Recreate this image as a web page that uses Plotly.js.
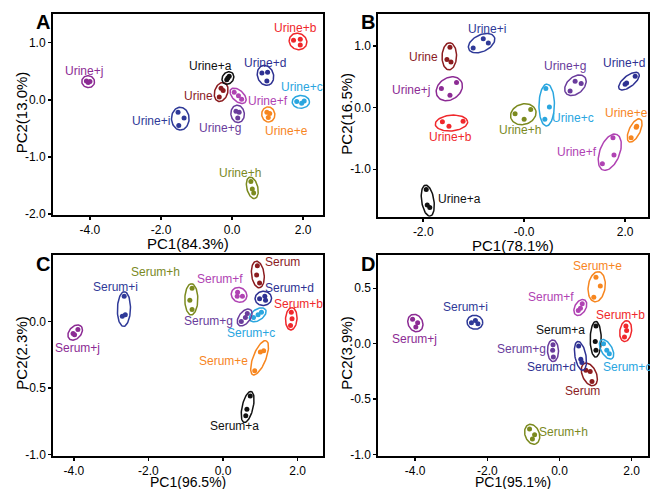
<!DOCTYPE html>
<html>
<head>
<meta charset="utf-8">
<script src="https://cdn.plot.ly/plotly-3.0.1.min.js"></script>
<style>html,body{margin:0;padding:0;background:#fff;}#chart{width:650px;height:489px;}</style>
</head>
<body>
<div id="chart"></div>
<script>
// ---------- DATA ----------
const suffixes = ["", "a", "b", "c", "d", "e", "f", "g", "h", "i", "j"];
const urineGroups = ["Urine","Urine+a","Urine+b","Urine+c","Urine+d","Urine+e","Urine+f","Urine+g","Urine+h","Urine+i","Urine+j"];
const serumGroups = ["Serum","Serum+a","Serum+b","Serum+c","Serum+d","Serum+e","Serum+f","Serum+g","Serum+h","Serum+i","Serum+j"];

// Panel A (Urine, PC1 84.3%, PC2 13.0%)
const A_pc1 = [[-0.31,-0.25,-0.36],[-0.15,-0.08,-0.12],[1.73,1.92,1.92],[1.82,1.96,2.03],[0.84,1.0,0.98],[0.98,1.06,1.02],[0.06,0.18,0.27],[0.11,0.2,0.16],[0.53,0.57,0.61],[-1.52,-1.35,-1.5],[-4.1,-4.0,-4.05]];
const A_pc2 = [[0.2,0.16,0.05],[0.35,0.41,0.38],[1.04,1.06,0.96],[-0.03,-0.06,-0.02],[0.47,0.48,0.33],[-0.22,-0.24,-0.31],[0.13,0.07,0.01],[-0.2,-0.22,-0.32],[-1.43,-1.56,-1.63],[-0.22,-0.32,-0.45],[0.33,0.32,0.30]];
const A_labelPC1 = [-0.94,-0.6,1.79,1.96,0.93,1.54,1.0,-0.34,0.21,-2.28,-4.16];
const A_labelPC2 = [0.06,0.59,1.25,0.22,0.65,-0.55,-0.02,-0.5,-1.28,-0.38,0.51];

// Panel B (Urine, PC1 78.1%, PC2 16.5%)
const B_pc1 = [[-1.47,-1.53,-1.45],[-1.94,-1.87,-1.92],[-1.62,-1.49,-1.21],[0.43,0.5,0.41],[2.0,2.2,2.03],[2.23,2.12,2.22],[1.76,1.78,1.55],[0.91,1.01,1.13],[-0.18,0.0,0.13],[-1.01,-0.81,-0.71],[-1.64,-1.34,-1.47]];
const B_pc2 = [[0.98,0.78,0.74],[-1.33,-1.62,-1.58],[-0.23,-0.3,-0.22],[0.31,0.01,-0.19],[0.38,0.51,0.4],[-0.3,-0.49,-0.32],[-0.49,-0.77,-0.91],[0.27,0.43,0.39],[-0.1,-0.19,-0.03],[0.97,1.12,1.05],[0.31,0.41,0.2]];
const B_labelPC1 = [-2.0,-1.29,-1.45,0.97,1.98,2.02,1.04,0.81,-0.09,-0.73,-2.25];
const B_labelPC2 = [0.82,-1.49,-0.48,-0.16,0.72,-0.09,-0.72,0.68,-0.36,1.28,0.29];

// Panel C (Serum, PC1 96.5%, PC2 2.3%)
const C_pc1 = [[0.92,0.9,0.98],[0.73,0.64,0.61],[1.83,1.85,1.81],[0.82,0.94,1.03],[0.98,1.12,1.14],[1.0,1.09,0.85],[0.39,0.38,0.52],[0.49,0.6,0.65],[-0.83,-0.89,-0.83],[-2.65,-2.7,-2.62],[-3.89,-4.02,-3.98]];
const C_pc2 = [[0.42,0.35,0.29],[-0.56,-0.66,-0.71],[0.07,0.02,-0.03],[0.03,0.05,0.07],[0.17,0.19,0.16],[-0.23,-0.22,-0.37],[0.22,0.19,0.19],[0.0,0.03,0.06],[0.25,0.16,0.09],[0.19,0.04,0.05],[-0.06,-0.09,-0.1]];
const C_labelPC1 = [1.59,0.31,2.01,0.74,1.79,0.02,-0.09,-0.4,-1.81,-2.88,-3.89];
const C_labelPC2 = [0.45,-0.79,0.13,-0.09,0.25,-0.3,0.32,0.0,0.37,0.26,-0.2];

// Panel D (Serum, PC1 95.1%, PC2 3.9%)
const D_pc1 = [[0.73,0.85,0.9],[1.01,0.99,1.01],[1.84,1.86,1.8],[1.22,1.31,1.38],[0.53,0.59,0.62],[1.01,1.13,0.95],[0.52,0.63,0.58],[-0.18,-0.17,-0.19],[-0.83,-0.69,-0.75],[-2.44,-2.33,-2.26],[-4.07,-3.93,-3.98]];
const D_pc2 = [[-0.24,-0.25,-0.34],[0.16,0.02,-0.06],[0.16,0.12,0.06],[0.0,-0.06,-0.09],[-0.02,-0.14,-0.17],[0.6,0.52,0.42],[0.3,0.36,0.32],[-0.01,-0.12,-0.06],[-0.77,-0.82,-0.86],[0.19,0.21,0.18],[0.22,0.19,0.15]];
const D_labelPC1 = [0.64,0.02,1.68,1.87,-0.23,1.05,-0.23,-1.04,0.11,-2.61,-4.02];
const D_labelPC2 = [-0.43,0.12,0.26,-0.21,-0.21,0.7,0.42,-0.05,-0.8,0.33,0.045];

// Axis titles and tick labels
const xTitles = ["PC1(84.3%)","PC1(78.1%)","PC1(96.5%)","PC1(95.1%)"];
const yTitles = ["PC2(13.0%)","PC2(16.5%)","PC2(2.3%)","PC2(3.9%)"];
const panelLetters = ["A","B","C","D"];
const A_xtickVals = [-4,-2,0,2], A_xtickText = ["-4.0","-2.0","0.0","2.0"];
const A_ytickVals = [1,0,-1,-2], A_ytickText = ["1.0","0.0","-1.0","-2.0"];
const B_xtickVals = [-2,0,2], B_xtickText = ["-2.0","-0.0","2.0"];
const B_ytickVals = [1,0,-1], B_ytickText = ["1.0","0.0","-1.0"];
const C_xtickVals = [-4,-2,0,2], C_xtickText = ["-4.0","-2.0","0.0","2.0"];
const C_ytickVals = [0,-0.5,-1], C_ytickText = ["0.0","-0.5","-1.0"];
const D_xtickVals = [-4,-2,0,2], D_xtickText = ["-4.0","-2.0","0.0","2.0"];
const D_ytickVals = [0.5,0,-0.5,-1], D_ytickText = ["0.5","0.0","-0.5","-1.0"];

// ---------- STYLE ----------
const FONT = "Arial, 'Liberation Sans', sans-serif";
const groupColors = {"":"#8b1c1f","a":"#111111","b":"#f0282c","c":"#2aa6df","d":"#2e3192","e":"#f7861f","f":"#b043b3","g":"#6a3c9c","h":"#7b8a1f","i":"#2f3a98","j":"#8c2b94"};
const W = 650, H = 489;
const panels = [
  {pc1:A_pc1, pc2:A_pc2, lx:A_labelPC1, ly:A_labelPC2, names:urineGroups, xr:[-5.04,2.56], yr:[-2.01,1.5], xd:[53,323], yd:[14,214.7], xt:[A_xtickVals,A_xtickText], yt:[A_ytickVals,A_ytickText], tgap:29, tfs:15},
  {pc1:B_pc1, pc2:B_pc2, lx:B_labelPC1, ly:B_labelPC2, names:urineGroups, xr:[-2.89,2.46], yr:[-1.77,1.52], xd:[378.3,648.3], yd:[14,216.7], xt:[B_xtickVals,B_xtickText], yt:[B_ytickVals,B_ytickText], tgap:28.5, tfs:15},
  {pc1:C_pc1, pc2:C_pc2, lx:C_labelPC1, ly:C_labelPC2, names:serumGroups, xr:[-4.55,2.68], yr:[-1.01,0.5], xd:[53.3,323], yd:[255,455.7], xt:[C_xtickVals,C_xtickText], yt:[C_ytickVals,C_ytickText], tgap:26.5, tfs:14},
  {pc1:D_pc1, pc2:D_pc2, lx:D_labelPC1, ly:D_labelPC2, names:serumGroups, xr:[-5.02,2.46], yr:[-1.01,0.8], xd:[378.3,648.3], yd:[255,455.7], xt:[D_xtickVals,D_xtickText], yt:[D_ytickVals,D_ytickText], tgap:26.5, tfs:14}
];

function enclosingEllipse(xs, ys, sx, sy) {
  const X = xs.map(v => v*sx), Y = ys.map(v => v*sy);
  const n = X.length;
  const mx = X.reduce((a,b)=>a+b,0)/n, my = Y.reduce((a,b)=>a+b,0)/n;
  let cxx=0, cyy=0, cxy=0;
  for (let i=0;i<n;i++){ const dx=X[i]-mx, dy=Y[i]-my; cxx+=dx*dx; cyy+=dy*dy; cxy+=dx*dy; }
  const th = 0.5*Math.atan2(2*cxy, cxx-cyy);
  const c = Math.cos(th), s = Math.sin(th);
  let mu=0, mv=0;
  for (let i=0;i<n;i++){ const dx=X[i]-mx, dy=Y[i]-my; mu=Math.max(mu, Math.abs(dx*c+dy*s)); mv=Math.max(mv, Math.abs(-dx*s+dy*c)); }
  let b = Math.max(mv + 5, 5.5);
  let a = Math.max(mu + 4.5, b);
  const ex=[], ey=[];
  for (let k=0;k<=72;k++){
    const t = 2*Math.PI*k/72;
    const u = a*Math.cos(t), v = b*Math.sin(t);
    ex.push((mx + u*c - v*s)/sx);
    ey.push((my + u*s + v*c)/sy);
  }
  return [ex, ey];
}

const traces = [];
const annotations = [];
const layout = {
  width: W, height: H,
  margin: {l:0, r:0, t:0, b:0},
  paper_bgcolor: "#ffffff", plot_bgcolor: "#ffffff",
  showlegend: false,
  font: {family: FONT, color: "#000"},
  annotations: annotations
};

panels.forEach((p, pi) => {
  const idx = pi === 0 ? "" : String(pi+1);
  const xa = "x"+idx, ya = "y"+idx;
  const sx = (p.xd[1]-p.xd[0])/(p.xr[1]-p.xr[0]);
  const sy = (p.yd[1]-p.yd[0])/(p.yr[1]-p.yr[0]);
  p.names.forEach((nm, gi) => {
    const col = groupColors[suffixes[gi]];
    const [ex, ey] = enclosingEllipse(p.pc1[gi], p.pc2[gi], sx, sy);
    traces.push({type:"scatter", mode:"lines", x:ex, y:ey, xaxis:xa, yaxis:ya,
      line:{color:col, width:1.5}, hoverinfo:"skip"});
    traces.push({type:"scatter", mode:"markers", x:p.pc1[gi], y:p.pc2[gi], xaxis:xa, yaxis:ya,
      marker:{color:col, size:5}, name:nm});
    annotations.push({x:p.lx[gi], y:p.ly[gi], xref:xa, yref:ya, text:nm, showarrow:false,
      xanchor:"center", yanchor:"middle",
      font:{size:12, color:col, family:FONT}});
  });
  const common = {showline:true, mirror:true, linecolor:"#000", linewidth:2, ticks:"outside",
    ticklen:3, tickwidth:1.5, tickcolor:"#000", showgrid:false, zeroline:false,
    tickfont:{size:12, color:"#000", family:FONT}};
  layout["xaxis"+idx] = Object.assign({}, common, {
    domain:[p.xd[0]/W, p.xd[1]/W], range:p.xr, anchor:ya,
    tickmode:"array", tickvals:p.xt[0], ticktext:p.xt[1]
  });
  layout["yaxis"+idx] = Object.assign({}, common, {
    domain:[1-p.yd[1]/H, 1-p.yd[0]/H], range:p.yr, anchor:xa,
    tickmode:"array", tickvals:p.yt[0], ticktext:p.yt[1]
  });
  // axis titles
  annotations.push({x:(p.xd[0]+p.xd[1])/2/W, y:1-(p.yd[1]+p.tgap)/H, xref:"paper", yref:"paper",
    xanchor:"center", yanchor:"middle", text:xTitles[pi], showarrow:false,
    font:{size:p.tfs, color:"#000", family:FONT}});
  annotations.push({x:(p.xd[0]-32)/W, y:1-((p.yd[0]+p.yd[1])/2 - 2)/H, xref:"paper", yref:"paper",
    xanchor:"center", yanchor:"middle", text:yTitles[pi], showarrow:false, textangle:-90,
    font:{size:15, color:"#000", family:FONT}});
  // panel letter
  annotations.push({x:(p.xd[0]-10.5)/W, y:1-(p.yd[0]+8.5)/H, xref:"paper", yref:"paper",
    xanchor:"center", yanchor:"middle",
    text:"<b>"+panelLetters[pi]+"</b>", showarrow:false, font:{size:20, color:"#000", family:FONT}});
});

Plotly.newPlot("chart", traces, layout, {staticPlot:true});
</script>
</body>
</html>
